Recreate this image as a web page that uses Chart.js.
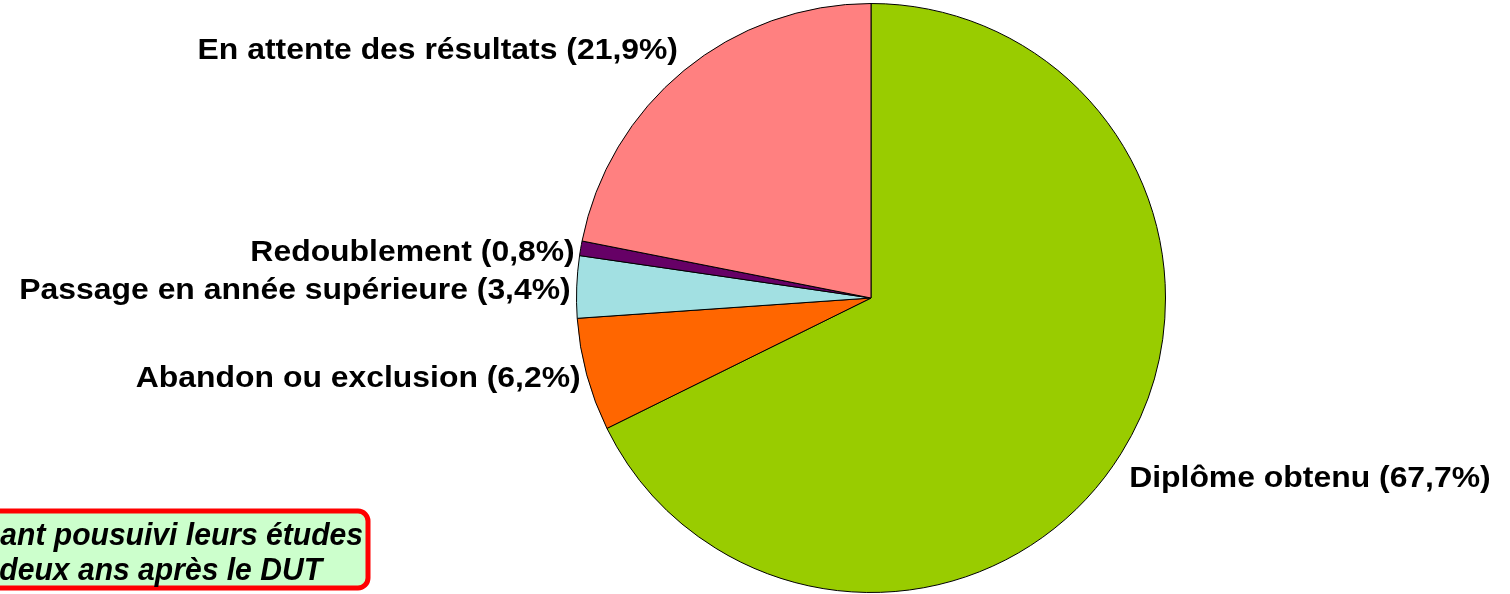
<!DOCTYPE html>
<html lang="fr">
<head>
<meta charset="utf-8">
<title>Devenir des étudiants deux ans après le DUT</title>
<script src="https://cdn.jsdelivr.net/npm/chart.js@4.4.1/dist/chart.umd.min.js"></script>
<style>
  html, body { margin: 0; padding: 0; background: #ffffff; }
  #wrap { position: relative; width: 1510px; height: 594px; overflow: hidden; }
  canvas { display: block; }
</style>
</head>
<body>
<div id="wrap"><canvas id="pie" width="1510" height="594"></canvas></div>
<script>
// Situation des étudiants deux ans après le DUT (en %)
const categories = [
  'Diplôme obtenu',
  'Abandon ou exclusion',
  'Passage en année supérieure',
  'Redoublement',
  'En attente des résultats'
];
const percentages = [67.7, 6.2, 3.4, 0.8, 21.9];
const sliceColors = ['#99CC00', '#FF6600', '#A2E0E2', '#660066', '#FF8080'];
const boxLines = ['ant pousuivi leurs études', 'deux ans après le DUT'];

const fmt = v => v.toFixed(1).replace('.', ',') + '%';

// Draws text with a horizontal stretch factor around its anchor
function drawStretched(ctx, text, x, y, align, stretch) {
  ctx.save();
  ctx.translate(x, y);
  ctx.scale(stretch, 1);
  ctx.textAlign = align;
  ctx.fillText(text, 0, 0);
  ctx.restore();
}

// Category labels set just outside each slice, on the side its middle faces.
// Labels facing mostly up or down hang from the corner nearest the pie.
const outsideLabels = {
  id: 'outsideLabels',
  afterDatasetsDraw(chart) {
    const ctx = chart.ctx;
    const meta = chart.getDatasetMeta(0);
    const size = 29, boxH = 30, gap = 12, stretch = 1.1;
    ctx.save();
    ctx.font = 'bold ' + size + 'px "Liberation Sans", Arial, sans-serif';
    ctx.fillStyle = '#000000';
    ctx.textBaseline = 'alphabetic';
    meta.data.forEach((arc, i) => {
      const p = arc.getProps(['x', 'y', 'startAngle', 'endAngle', 'outerRadius'], true);
      const mid = (p.startAngle + p.endAngle) / 2;
      const ux = Math.cos(mid), uy = Math.sin(mid);
      const px = p.x + p.outerRadius * ux;
      const py = p.y + p.outerRadius * uy;
      const right = ux >= 0;
      const tx = px + (right ? 8 : -6);
      let cy = py + 2;
      if (Math.abs(uy) > 0.4) cy += gap * uy + Math.sign(uy) * boxH / 2;
      const baseline = cy + size * 0.358;
      drawStretched(ctx, categories[i] + ' (' + fmt(percentages[i]) + ')',
                    tx, baseline, right ? 'left' : 'right', stretch);
    });
    ctx.restore();
  }
};

// Framed note in the lower left corner
const noteBox = {
  id: 'noteBox',
  afterDraw(chart) {
    const ctx = chart.ctx;
    ctx.save();
    const x = -30, y = 511, w = 398, h = 77, r = 10;
    ctx.beginPath();
    ctx.roundRect(x, y, w, h, r);
    ctx.fillStyle = '#CCFFCC';
    ctx.fill();
    ctx.lineWidth = 5;
    ctx.strokeStyle = '#FF0000';
    ctx.stroke();
    ctx.fillStyle = '#000000';
    ctx.font = 'italic bold 32px "Liberation Sans", Arial, sans-serif';
    ctx.textBaseline = 'alphabetic';
    drawStretched(ctx, boxLines[0], 363, 545, 'right', 0.94);
    drawStretched(ctx, boxLines[1], 322, 580, 'right', 0.94);
    ctx.restore();
  }
};

new Chart(document.getElementById('pie'), {
  type: 'pie',
  data: {
    labels: categories,
    datasets: [{
      data: percentages,
      backgroundColor: sliceColors,
      borderColor: '#000000',
      borderWidth: 1,
      borderAlign: 'center'
    }]
  },
  options: {
    responsive: false,
    animation: false,
    rotation: 0,
    layout: { padding: { left: 576, right: 344, top: 3, bottom: 1 } },
    plugins: {
      legend: { display: false },
      tooltip: { enabled: false },
      title: { display: false }
    }
  },
  plugins: [outsideLabels, noteBox]
});
</script>
</body>
</html>
